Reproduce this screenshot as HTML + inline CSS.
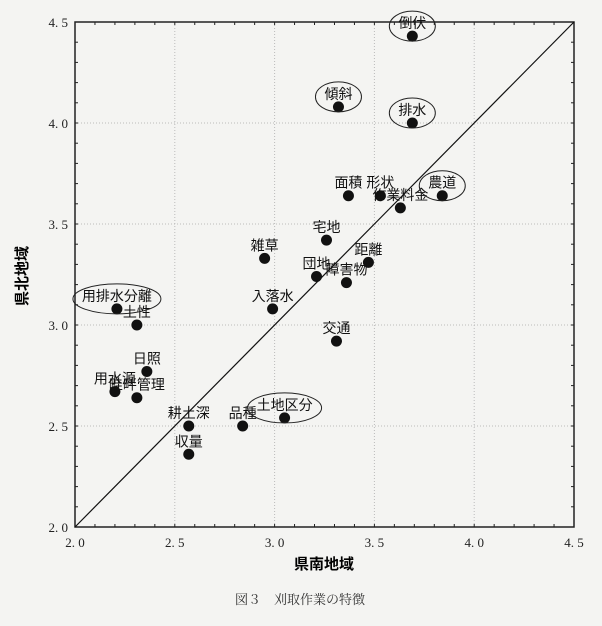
<!DOCTYPE html>
<html><head><meta charset="utf-8"><style>
body{margin:0;background:#f4f4f2;}
svg{display:block;font-family:"Liberation Sans","Noto Sans CJK JP",sans-serif;}
.tk{font-family:"Liberation Serif","Noto Serif CJK SC",serif;font-size:13px;fill:#222;}
.lb{font-size:14px;fill:#111;}
</style></head><body>
<svg id="chart" width="602" height="626" viewBox="0 0 602 626">
<g id="grid"></g>
<g id="axes"></g>
<g id="pts"></g>
<text x="324" y="569" text-anchor="middle" style="font-size:15px;font-weight:bold">県南地域</text>
<text transform="translate(27,276) rotate(-90)" text-anchor="middle" style="font-size:15px;font-weight:bold">県北地域</text>
<text x="300" y="604" text-anchor="middle" style="font-family:'Liberation Serif','Noto Serif CJK JP',serif;font-size:13px;fill:#333">図３　刈取作業の特徴</text>
</svg>
<script>
const labels=["倒伏","傾斜","排水","面積","形状","作業料金","農道","宅地","雑草","距離","団地","障害物","入落水","用排水分離","土性","交通","日照","用水源","畦畔管理","耕土深","品種","土地区分","収量"];
const xVals=[3.69,3.32,3.69,3.37,3.53,3.63,3.84,3.26,2.95,3.47,3.21,3.36,2.99,2.21,2.31,3.31,2.36,2.20,2.31,2.57,2.84,3.05,2.57];
const yVals=[4.43,4.08,4.00,3.64,3.64,3.58,3.64,3.42,3.33,3.31,3.24,3.21,3.08,3.08,3.00,2.92,2.77,2.67,2.64,2.50,2.50,2.54,2.36];
const circled=["倒伏","傾斜","排水","農道","用排水分離","土地区分"];
const ticks=[2.0,2.5,3.0,3.5,4.0,4.5];
const tickLabels=["2. 0","2. 5","3. 0","3. 5","4. 0","4. 5"];
const NS="http://www.w3.org/2000/svg";
const X0=75,X1=574,Y0=527,Y1=22;
const sx=v=>X0+(v-2)*(X1-X0)/2.5, sy=v=>Y0-(v-2)*(Y0-Y1)/2.5;
function mk(t,a,p){const e=document.createElementNS(NS,t);for(const k in a)e.setAttribute(k,a[k]);p.appendChild(e);return e;}
const grid=document.getElementById('grid'),axes=document.getElementById('axes'),pts=document.getElementById('pts');
ticks.forEach((t,i)=>{
 if(i>0&&i<5){
  const gv=mk('line',{x1:sx(t),x2:sx(t),y1:Y1,y2:Y0,stroke:'#bbb','stroke-dasharray':'1,2'},grid);
  
  
  const gh=mk('line',{x1:X0,x2:X1,y1:sy(t),y2:sy(t),stroke:'#bbb','stroke-dasharray':'1,2'},grid);
  
  
 }
 const xl=mk('text',{x:sx(t),y:Y0+20,'text-anchor':'middle',class:'tk'},axes);xl.textContent=tickLabels[i];
 
 
 const yl=mk('text',{x:X0-7,y:sy(t)+5,'text-anchor':'end',class:'tk'},axes);yl.textContent=tickLabels[i];
 
 
});
for(let k=0;k<=25;k++){const v=2+k*0.1;
 mk('line',{x1:sx(v),x2:sx(v),y1:Y0,y2:Y0-3,stroke:'#222'},axes);
 mk('line',{x1:sx(v),x2:sx(v),y1:Y1,y2:Y1+3,stroke:'#222'},axes);
 mk('line',{x1:X0,x2:X0+3,y1:sy(v),y2:sy(v),stroke:'#222'},axes);
 mk('line',{x1:X1,x2:X1-3,y1:sy(v),y2:sy(v),stroke:'#222'},axes);}
const fr=mk('rect',{x:X0,y:Y1,width:X1-X0,height:Y0-Y1,fill:'none',stroke:'#222','stroke-width':1.5},axes);


const dg=mk('line',{x1:sx(2),y1:sy(2),x2:sx(4.5),y2:sy(4.5),stroke:'#111','stroke-width':1.2},axes);


labels.forEach((l,i)=>{
 const cx=sx(xVals[i]),cy=sy(yVals[i]);
 const c=mk('circle',{cx:cx,cy:cy,r:5.5,fill:'#111'},pts);
 
 
 const w=l.length*14;
 const tx=mk('text',{x:cx,y:cy-8,'text-anchor':'middle',class:'lb'},pts);tx.textContent=l;
 
 
 if(circled.includes(l)){
  const e=mk('ellipse',{cx:cx,cy:cy-10,rx:w/2+9,ry:15,fill:'none',stroke:'#222','stroke-width':1},pts);
  
  
 }
});
</script>
</body></html>
